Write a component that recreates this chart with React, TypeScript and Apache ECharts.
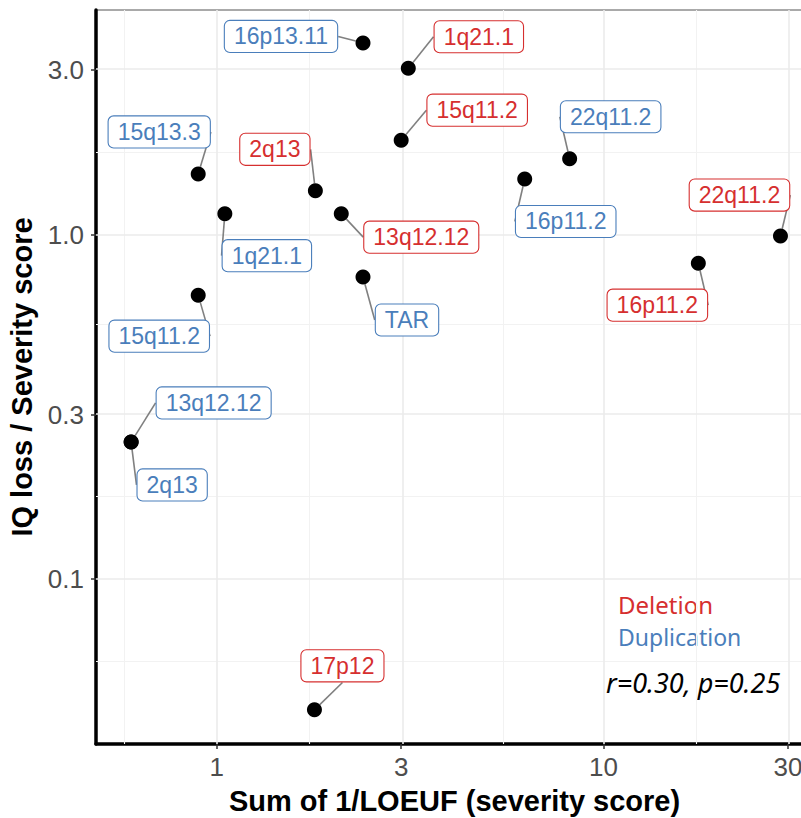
import React, { useEffect, useRef } from "react";
import * as echarts from "echarts";

// ---- data ----
const names = [
  "16p13.11", "1q21.1", "15q11.2", "22q11.2", "16p11.2", "22q11.2", "16p11.2", "15q13.3",
  "2q13", "1q21.1", "13q12.12", "TAR", "15q11.2", "13q12.12", "2q13", "17p12",
];
const types = [
  "dup", "del", "del", "dup", "dup", "del", "del", "dup",
  "del", "dup", "del", "dup", "dup", "dup", "dup", "del",
];
const severity = [2.39, 3.13, 3.0, 8.18, 6.26, 28.7, 17.6, 0.896, 1.8, 1.05, 2.1, 2.39, 0.896, 0.601, 0.601, 1.79];
const iqRatio = [3.6, 3.04, 1.88, 1.66, 1.45, 0.99, 0.826, 1.5, 1.34, 1.15, 1.15, 0.753, 0.667, 0.25, 0.25, 0.0417];

// label offsets (pixels, label centre relative to point)
const labelDx = [-82, 70.5, 76, 41, 41, -41, -41, -39, -40.5, 42, 80, 44, -39, 82.5, 41, 28];
const labelDy = [-6.5, -31.5, -30, -42, 42.5, -41, 42, -42, -41.5, 42, 23.5, 43, 41, -39, 43, -44];

const xTicks = [1, 3, 10, 30];
const xTickLabels = ["1", "3", "10", "30"];
const yTicks = [0.1, 0.3, 1, 3];
const yTickLabels = ["0.1", "0.3", "1.0", "3.0"];

const RED = "#D62F2F";
const BLUE = "#4A7EBB";
const FONT = "Liberation Sans, Arial, sans-serif";

function minorBreaks(major: number[]): number[] {
  const d = major[1] - major[0];
  const ext = [major[0] - d, ...major, major[major.length - 1] + d];
  const out: number[] = [];
  for (let i = 0; i < ext.length - 1; i++) out.push((ext[i] + ext[i + 1]) / 2);
  return out;
}

export default function App() {
  const ref = useRef<HTMLDivElement>(null);
  useEffect(() => {
    const chart = echarts.init(ref.current!, null, { renderer: "svg" });
    const xMajor = xTicks.map((v) => Math.log10(v));
    const yMajor = yTicks.map((v) => Math.log10(v));
    const xMinor = minorBreaks(xMajor);
    const yMinor = minorBreaks(yMajor);
    const xMin = -0.312, xMax = 1.542, yMin = -1.479, yMax = 0.652;
    const majorStyle = { color: "#EBEBEB", width: 1.6, type: "solid" as const };
    const minorStyle = { color: "#F2F2F2", width: 1.1, type: "solid" as const };
    const gridData: any[] = [];
    xMinor.filter((v) => v > xMin && v < xMax).forEach((v) => gridData.push({ xAxis: v, lineStyle: minorStyle }));
    yMinor.filter((v) => v > yMin && v < yMax).forEach((v) => gridData.push({ yAxis: v, lineStyle: minorStyle }));
    xMajor.forEach((v) => gridData.push({ xAxis: v, lineStyle: majorStyle }));
    yMajor.forEach((v) => gridData.push({ yAxis: v, lineStyle: majorStyle }));

    const data = names.map((n, i) => {
      const c = types[i] === "del" ? RED : BLUE;
      return {
        name: n,
        value: [Math.log10(severity[i]), Math.log10(iqRatio[i])],
        label: { color: c, borderColor: c },
      };
    });

    const fmt = (ticks: number[], labels: string[]) => (v: number) => {
      const i = ticks.findIndex((t) => Math.abs(t - v) < 1e-6);
      return i >= 0 ? labels[i] : "";
    };

    // segment from the point's edge to the label box edge, along the centre line (ggrepel-like)
    const layout = (params: any) => {
      const i = params.dataIndex;
      const dx = labelDx[i];
      const dy = labelDy[i];
      const res: any = { dx, dy };
      const r = params.rect;
      const lr = params.labelRect;
      if (r && lr) {
        const cx = r.x + r.width / 2;
        const cy = r.y + r.height / 2;
        const lx = lr.x + lr.width / 2 + dx;
        const ly = lr.y + lr.height / 2 + dy;
        const vx = lx - cx;
        const vy = ly - cy;
        const len = Math.sqrt(vx * vx + vy * vy) || 1;
        const rad = r.width / 2 + 1;
        const sx = cx + (vx / len) * rad;
        const sy = cy + (vy / len) * rad;
        const tx = Math.abs(vx) > 1e-6 ? lr.width / 2 / Math.abs(vx) : Infinity;
        const ty = Math.abs(vy) > 1e-6 ? lr.height / 2 / Math.abs(vy) : Infinity;
        const t = Math.min(tx, ty);
        const ex = lx - vx * t;
        const ey = ly - vy * t;
        res.labelLinePoints = [[sx, sy], [(sx + ex) / 2, (sy + ey) / 2], [ex, ey]];
      }
      return res;
    };

    chart.setOption({
      animation: false,
      backgroundColor: "#ffffff",
      grid: {
        left: 96,
        right: -12,
        top: 10,
        bottom: 74,
        containLabel: false,
        outerBoundsMode: "none",
        show: true,
        borderColor: "#555555",
        borderWidth: 1,
        backgroundColor: "#ffffff",
      },
      xAxis: {
        type: "value",
        min: xMin,
        max: xMax,
        name: "Sum of 1/LOEUF (severity score)",
        nameLocation: "middle",
        nameGap: 42,
        nameTextStyle: { fontFamily: FONT, fontSize: 29, fontWeight: "bold", color: "#000" },
        axisLine: { show: true, onZero: false, lineStyle: { color: "#000", width: 3.5 } },
        axisTick: { show: true, length: 5, customValues: xMajor, lineStyle: { color: "#333", width: 1.5 } },
        axisLabel: {
          customValues: xMajor,
          formatter: fmt(xMajor, xTickLabels),
          fontFamily: FONT,
          fontSize: 26,
          color: "#4D4D4D",
          margin: 10,
        },
        splitLine: { show: false },
      },
      yAxis: {
        type: "value",
        min: yMin,
        max: yMax,
        name: "IQ loss / Severity score",
        nameLocation: "middle",
        nameGap: 58,
        nameTextStyle: { fontFamily: FONT, fontSize: 29, fontWeight: "bold", color: "#000" },
        axisLine: { show: true, onZero: false, lineStyle: { color: "#000", width: 3.5 } },
        axisTick: { show: true, length: 5, customValues: yMajor, lineStyle: { color: "#333", width: 1.5 } },
        axisLabel: {
          customValues: yMajor,
          formatter: fmt(yMajor, yTickLabels),
          fontFamily: FONT,
          fontSize: 26,
          color: "#4D4D4D",
          margin: 12,
        },
        splitLine: { show: false },
      },
      series: [
        {
          type: "scatter",
          data: [],
          z: 1,
          silent: true,
          markLine: {
            silent: true,
            z: 1,
            symbol: ["none", "none"],
            label: { show: false },
            emphasis: { disabled: true },
            data: gridData,
          },
        },
        {
          type: "scatter",
          z: 3,
          symbol: "circle",
          symbolSize: 15,
          itemStyle: { color: "#000", opacity: 1 },
          data,
          label: {
            show: true,
            position: "inside",
            formatter: (p: any) => p.name,
            fontFamily: FONT,
            fontSize: 23,
            lineHeight: 24,
            backgroundColor: "#ffffff",
            borderWidth: 1.1,
            borderRadius: 5,
            padding: [4, 9, 3, 9],
          },
          labelLine: { show: true, lineStyle: { color: "#808080", width: 1.6 } },
          labelLayout: layout,
          emphasis: { disabled: true },
        },
      ],
      graphic: [
        {
          type: "text",
          left: 618,
          top: 592,
          style: { text: "Deletion", fill: RED, font: "24px 'Noto Sans', sans-serif" },
        },
        {
          type: "text",
          left: 618,
          top: 625,
          style: { text: "Duplication", fill: BLUE, font: "23px 'Noto Sans', sans-serif" },
        },
        {
          type: "text",
          left: 606,
          top: 669,
          style: { text: "r=0.30, p=0.25", fill: "#000", font: "italic 27px 'Noto Sans', sans-serif" },
        },
      ],
    });
    return () => chart.dispose();
  }, []);
  return <div ref={ref} style={{ position: "absolute", left: 0, top: 0, width: 801, height: 818 }} />;
}
